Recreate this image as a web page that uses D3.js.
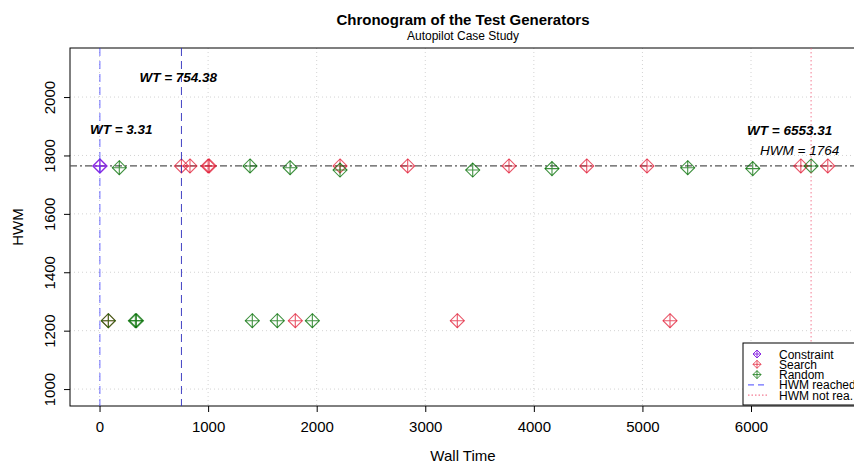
<!DOCTYPE html>
<html lang="en">
<head>
    <meta charset="UTF-8">
    <title>Chronogram of the Test Generators</title>
    <script src="https://d3js.org/d3.v7.min.js"></script>
    <style>
        body { margin: 0; background: #fff; }
        text { font-family: "Liberation Sans", Arial, sans-serif; }
    </style>
</head>
<body>
<svg width="854" height="464"></svg>
<script>
    // data
    let constraintWT = [3.31]
    let constraintHWM = [1764]
    let searchWT = [754.38, 833, 1000, 1010, 2215, 2838, 3771, 4487, 5042, 6459, 6707, 81, 1803, 3295, 5254]
    let searchHWM = [1764, 1764, 1764, 1764, 1764, 1764, 1764, 1764, 1764, 1764, 1764, 1234, 1234, 1234, 1234]
    let randomWT = [182, 1386, 1755, 2215, 3437, 4167, 5417, 6016, 6553.31, 81, 330, 340, 1407, 1637, 1960]
    let randomHWM = [1758, 1764, 1758, 1750, 1750, 1755, 1758, 1755, 1764, 1234, 1234, 1234, 1234, 1234, 1234]
    let xTicks = [0, 1000, 2000, 3000, 4000, 5000, 6000]
    let yTicks = [1000, 1200, 1400, 1600, 1800, 2000]
    let hwmValue = 1764
    let reachedWT = [3.31, 754.38]
    let notReachedWT = [6553.31]

    let svg = d3.select('svg')
    let pLeft = 70, pRight = 856, pTop = 48, pBottom = 406

    let x = d3.scaleLinear().domain([-272, 6967]).range([pLeft, pRight])
    let y = d3.scaleLinear().domain([942, 2168]).range([pBottom, pTop])

    let colors = {constraint: '#8a2be2', search: 'rgba(225,30,55,0.75)', random: 'rgba(0,110,0,0.75)'}

    // grid
    let grid = svg.append('g').attr('stroke', '#d3d3d3').attr('stroke-dasharray', '1,3')
    grid.selectAll('.gx').data(xTicks).enter().append('line')
        .attr('x1', d => x(d)).attr('x2', d => x(d)).attr('y1', pTop).attr('y2', pBottom)
    grid.selectAll('.gy').data(yTicks).enter().append('line')
        .attr('x1', pLeft).attr('x2', pRight).attr('y1', d => y(d)).attr('y2', d => y(d))

    // axes
    let xAxis = svg.append('g').attr('transform', `translate(0,${pBottom})`)
        .call(d3.axisBottom(x).tickValues(xTicks).tickSize(6).tickPadding(9).tickFormat(d3.format('d')))
    xAxis.select('.domain').remove()
    xAxis.selectAll('text').attr('font-size', 15).attr('fill', '#000')
        .attr('font-family', '"Liberation Sans", Arial, sans-serif')
    xAxis.selectAll('line').attr('stroke', '#000')

    let yAxis = svg.append('g').attr('transform', `translate(${pLeft},0)`)
        .call(d3.axisLeft(y).tickValues(yTicks).tickSize(6).tickFormat(d3.format('d')))
    yAxis.select('.domain').remove()
    yAxis.selectAll('line').attr('stroke', '#000')
    yAxis.selectAll('text').attr('font-size', 15).attr('fill', '#000')
        .attr('font-family', '"Liberation Sans", Arial, sans-serif')
        .attr('text-anchor', 'middle').attr('dy', null).attr('x', null)
        .attr('transform', 'translate(-15,0) rotate(-90)')
        .attr('y', 0)

    // box
    svg.append('rect').attr('x', pLeft).attr('y', pTop).attr('width', pRight - pLeft).attr('height', pBottom - pTop)
        .attr('fill', 'none').attr('stroke', '#000')

    // HWM line
    svg.append('line').attr('x1', pLeft).attr('x2', pRight).attr('y1', y(hwmValue)).attr('y2', y(hwmValue))
        .attr('stroke', '#555').attr('stroke-width', 1.2).attr('stroke-dasharray', '7,3,2,3')

    // points: diamond with a plus inside
    function diamond(g, cx, cy, r, color, sw) {
        let s = g.append('g').attr('stroke', color).attr('fill', 'none').attr('stroke-width', sw)
        s.append('path').attr('d', `M${cx},${cy - r}L${cx + r},${cy}L${cx},${cy + r}L${cx - r},${cy}Z`)
        s.append('path').attr('d', `M${cx - r},${cy}H${cx + r}M${cx},${cy - r}V${cy + r}`)
    }
    let pts = svg.append('g')
    searchWT.forEach((d, i) => diamond(pts, x(d), y(searchHWM[i]), 7, colors.search, 1.1))
    randomWT.forEach((d, i) => diamond(pts, x(d), y(randomHWM[i]), 7, colors.random, 1.1))
    constraintWT.forEach((d, i) => diamond(pts, x(d), y(constraintHWM[i]), 7, colors.constraint, 1.4))

    // WT lines
    svg.append('line').attr('x1', x(reachedWT[0])).attr('x2', x(reachedWT[0])).attr('y1', pTop).attr('y2', pBottom)
        .attr('stroke', 'rgba(60,60,255,0.75)').attr('stroke-dasharray', '8,5')
    svg.append('line').attr('x1', x(reachedWT[1])).attr('x2', x(reachedWT[1])).attr('y1', pTop).attr('y2', pBottom)
        .attr('stroke', 'rgba(45,45,190,0.9)').attr('stroke-dasharray', '8,5')
    svg.append('line').attr('x1', x(notReachedWT[0])).attr('x2', x(notReachedWT[0])).attr('y1', pTop).attr('y2', pBottom)
        .attr('stroke', 'rgba(240,90,120,0.8)').attr('stroke-dasharray', '1.5,2.5')

    // annotations
    let ann = svg.append('g').attr('font-size', 13.5).attr('font-style', 'italic').attr('font-weight', 'bold')
    ann.append('text').attr('x', x(reachedWT[0]) - 10).attr('y', 134).text('WT = ' + reachedWT[0])
    ann.append('text').attr('x', x(reachedWT[1]) - 42).attr('y', 82).text('WT = ' + reachedWT[1])
    ann.append('text').attr('x', x(notReachedWT[0]) - 64).attr('y', 135).text('WT = ' + notReachedWT[0])
    svg.append('text').attr('x', x(notReachedWT[0]) - 51).attr('y', 155).attr('font-size', 13.5)
        .attr('font-style', 'italic').text('HWM = ' + hwmValue)

    // titles
    svg.append('text').attr('x', 463).attr('y', 25).attr('text-anchor', 'middle')
        .attr('font-size', 15).attr('font-weight', 'bold').text('Chronogram of the Test Generators')
    svg.append('text').attr('x', 463).attr('y', 40).attr('text-anchor', 'middle')
        .attr('font-size', 12).text('Autopilot Case Study')
    svg.append('text').attr('x', 463).attr('y', 461).attr('text-anchor', 'middle')
        .attr('font-size', 15).text('Wall Time')
    svg.append('text').attr('transform', `translate(23,${(pTop + pBottom) / 2}) rotate(-90)`)
        .attr('text-anchor', 'middle').attr('font-size', 15).text('HWM')

    // legend
    let lg = svg.append('g')
    lg.append('rect').attr('x', 743).attr('y', 343).attr('width', 130).attr('height', 62)
        .attr('fill', '#fff').attr('stroke', '#000')
    let legendItems = [
        {label: 'Constraint', type: 'pt', color: colors.constraint},
        {label: 'Search', type: 'pt', color: colors.search},
        {label: 'Random', type: 'pt', color: colors.random},
        {label: 'HWM reached', type: 'line', color: 'rgba(60,60,255,0.75)', dash: '6,4'},
        {label: 'HWM not rea.', type: 'line', color: 'rgba(240,90,120,0.8)', dash: '1.5,2'}
    ]
    legendItems.forEach((d, i) => {
        let cy = 354 + i * 10.3
        if (d.type === 'pt') diamond(lg, 757, cy, 4, d.color, 1)
        else lg.append('line').attr('x1', 748).attr('x2', 768).attr('y1', cy).attr('y2', cy)
            .attr('stroke', d.color).attr('stroke-dasharray', d.dash).attr('stroke-width', 1.2)
        lg.append('text').attr('x', 779).attr('y', cy + 4.5).attr('font-size', 12).text(d.label)
    })
</script>
</body>
</html>
